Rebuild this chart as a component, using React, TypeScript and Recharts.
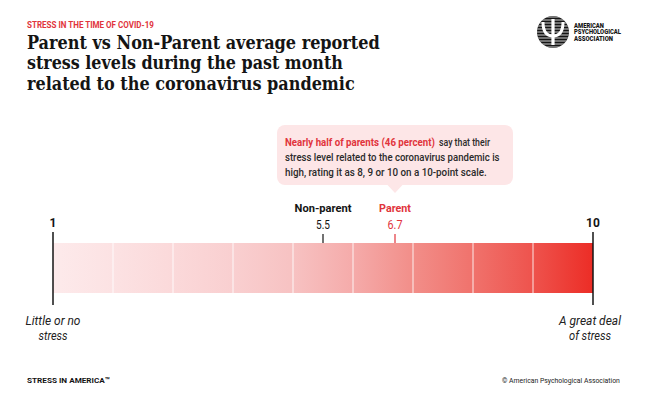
import React, {useLayoutEffect, useRef, useState} from "react";
import {ComposedChart, ReferenceArea, ReferenceLine, Scatter, XAxis, YAxis} from "recharts";

//  DATA

const scaleSteps = [1, 2, 3, 4, 5, 6, 7, 8, 9, 10]
const stepColors = ['#fdeaeb', '#fce2e3', '#fbd9da', '#f9cfd0', '#f7c2c2', '#f5abaa', '#f28e89', '#f0726c', '#ee534d', '#ec2d26']
const groupNames = ['Non-parent', 'Parent']
const groupScores = [5.5, 6.7]
const endpointValues = [1, 10]
const endpointCaptions = [['Little or no', 'stress'], ['A great deal', 'of stress']]
const calloutHighlight = 'Nearly half of parents (46 percent)'
const calloutLines = ['say that their', 'stress level related to the coronavirus pandemic is', 'high, rating it as 8, 9 or 10 on a 10-point scale.']
const kicker = 'STRESS IN THE TIME OF COVID-19'
const titleLines = ['Parent vs Non-Parent average reported', 'stress levels during the past month', 'related to the coronavirus pandemic']
const footerLeft = 'STRESS IN AMERICA™'
const footerRight = '© American Psychological Association'
const logoLines = ['AMERICAN', 'PSYCHOLOGICAL', 'ASSOCIATION']

//  STYLE

const RED = '#e1343c'
const INK = '#141414'
const SANS = "Roboto, 'Noto Sans', sans-serif"
const SERIF = "'DejaVu Serif Condensed', 'DejaVu Serif', serif"
const TITLE_WIDTHS = [353, 316, 328]
const NAME_WIDTHS = [57, 32]
const SCORE_WIDTHS = [14, 15]
const CAPTION_WIDTHS = [[55, 29], [62, 42]]
const CAPTION_SHIFT = [0, -3]
const CALLOUT_WIDTHS = [150, 51, 215, 202]
const LOGO_WIDTHS = [30, 47, 39]

const markerData = groupNames.map((name, i) => ({x: groupScores[i], y: 1, name, index: i}))
const endpointData = endpointValues.map((v, i) => ({x: v, y: 1, label: String(v), index: i}))
const segments = scaleSteps.slice(0, -1)


//  HELPERS

/**
 * Text squeezed horizontally to a given width (the reference uses a condensed face)
 */
function FitText({x, y, width, anchor = 'start', children, ...rest}: any) {
  const ref = useRef<SVGTextElement>(null)
  const [scale, setScale] = useState(1)

  useLayoutEffect(() => {
    const natural = ref.current?.getComputedTextLength() ?? 0
    if (natural > 0) setScale(width / natural)
  }, [width, children])

  return (
    <g transform={`translate(${x},${y}) scale(${scale},1)`}>
      <text ref={ref} x={0} y={0} textAnchor={anchor} {...rest}>{children}</text>
    </g>
  )
}


//  SHAPES

function Callout({cx, cy}: { cx: number, cy: number }) {
  const left = cx - 118
  return (
    <g>
      <rect x={left} y={cy - 118} width={236} height={60} rx={8} fill={'#fde6e7'}/>
      <path d={`M${cx - 8},${cy - 58.5} L${cx},${cy - 50} L${cx + 8},${cy - 58.5} Z`} fill={'#fde6e7'}/>
      <FitText x={left + 8} y={cy - 97} width={CALLOUT_WIDTHS[0]} fontFamily={SANS} fontSize={11} fontWeight={700}
               fill={RED}>{calloutHighlight}</FitText>
      <FitText x={left + 8 + CALLOUT_WIDTHS[0] + 4} y={cy - 97} width={CALLOUT_WIDTHS[1]} fontFamily={SANS}
               fontSize={11} fontWeight={500} fill={'#2a2a2a'}>{calloutLines[0]}</FitText>
      {calloutLines.slice(1).map((line, i) => (
        <FitText key={line} x={left + 8} y={cy - 82 + i * 14.5} width={CALLOUT_WIDTHS[i + 2]} fontFamily={SANS}
                 fontSize={11} fontWeight={500} fill={'#2a2a2a'}>{line}</FitText>
      ))}
    </g>
  )
}

function GroupMarker(props: any) {
  const {cx, cy, payload} = props
  const i = payload.index
  const color = i === 1 ? RED : INK
  return (
    <g>
      {i === 1 && <Callout cx={cx} cy={cy}/>}
      <FitText x={cx} y={cy - 31} anchor="middle" width={NAME_WIDTHS[i]} fontFamily={SANS} fontSize={11.5}
               fontWeight={700} fill={color}>{payload.name}</FitText>
      <FitText x={cx} y={cy - 14} anchor="middle" width={SCORE_WIDTHS[i]} fontFamily={SANS} fontSize={12.5}
               fill={color}>{String(payload.x)}</FitText>
      <line x1={cx} x2={cx} y1={cy - 9} y2={cy} stroke={color} strokeWidth={1.2}/>
    </g>
  )
}

function EndpointMarker(props: any) {
  const {cx, cy, payload} = props
  const i = payload.index
  const lines = endpointCaptions[i]
  return (
    <g>
      <line x1={cx} x2={cx} y1={cy - 11} y2={cy + 62} stroke={INK} strokeWidth={1.5}/>
      <text x={cx} y={cy - 16} textAnchor="middle" fontFamily={SANS} fontSize={12} fontWeight={700} fill={INK}>
        {payload.label}
      </text>
      {lines.map((line, k) => (
        <FitText key={line} x={cx + CAPTION_SHIFT[i]} y={cy + 81.5 + k * 15.5} anchor="middle"
                 width={CAPTION_WIDTHS[i][k]} fontFamily={SANS} fontSize={13} fontStyle="italic"
                 fill={'#222'}>{line}</FitText>
      ))}
    </g>
  )
}

function Logo() {
  const cx = 553
  const cy = 32
  const r = 16
  const stripes = Array.from({length: 11}, (_, k) => cy - 15 + k * 3)
  return (
    <g>
      <defs>
        <clipPath id="logoClip">
          <circle cx={cx} cy={cy} r={r}/>
        </clipPath>
      </defs>
      <circle cx={cx} cy={cy} r={r} fill={INK}/>
      <g clipPath="url(#logoClip)">
        {stripes.map(y => (
          <line key={y} x1={cx - r} x2={cx + r} y1={y} y2={y} stroke="#fff" strokeWidth={0.8}/>
        ))}
      </g>
      <rect x={cx - 1.6} y={cy - 13} width={3.2} height={26} fill="#fff"/>
      <path d={`M${cx - 10},${cy - 10} Q${cx - 10},${cy + 4} ${cx},${cy + 4} Q${cx + 10},${cy + 4} ${cx + 10},${cy - 10}`}
            fill="none" stroke="#fff" strokeWidth={3}/>
      {logoLines.map((line, k) => (
        <FitText key={line} x={574} y={27.5 + k * 6.6} width={LOGO_WIDTHS[k]} fontFamily={SANS} fontSize={6.3}
                 fontWeight={900} fill={INK}>{line}</FitText>
      ))}
    </g>
  )
}


//  RENDER

export default function App() {
  return (
    <div style={{position: 'absolute', left: 0, top: 0, width: 647, height: 397, background: '#fff'}}>
      <ComposedChart width={647} height={397} margin={{top: 243, right: 54, bottom: 104, left: 53}}>
        <defs>
          {segments.map(s => (
            <linearGradient key={s} id={`seg${s}`} x1="0" y1="0" x2="1" y2="0">
              <stop offset="0%" stopColor={stepColors[s - 1]}/>
              <stop offset="100%" stopColor={stepColors[s]}/>
            </linearGradient>
          ))}
        </defs>
        <XAxis type="number" dataKey="x" domain={[1, 10]} hide/>
        <YAxis type="number" dataKey="y" domain={[0, 1]} hide/>
        {segments.map(s => (
          <ReferenceArea key={s} x1={s} x2={s + 1} y1={0} y2={1} fill={`url(#seg${s})`} fillOpacity={1}
                         stroke="none"/>
        ))}
        {scaleSteps.slice(1, -1).map(s => (
          <ReferenceLine key={s} x={s} stroke="#fff" strokeOpacity={0.85} strokeWidth={1}/>
        ))}
        <Scatter data={markerData} dataKey="y" shape={GroupMarker} isAnimationActive={false}/>
        <Scatter data={endpointData} dataKey="y" shape={EndpointMarker} isAnimationActive={false}/>
      </ComposedChart>
      <svg width={647} height={397} style={{position: 'absolute', left: 0, top: 0, pointerEvents: 'none'}}>
        <FitText x={27} y={27.5} width={127} fontFamily={SANS} fontSize={8.5} fontWeight={700}
                 fill={RED}>{kicker}</FitText>
        {titleLines.map((line, k) => (
          <FitText key={line} x={27} y={48.5 + k * 20.8} width={TITLE_WIDTHS[k]} fontFamily={SERIF} fontSize={19}
                   fontWeight={700} fill={INK}>{line}</FitText>
        ))}
        <Logo/>
        <FitText x={27} y={383} width={83} fontFamily={SANS} fontSize={8} fontWeight={700}
                 fill={INK}>{footerLeft}</FitText>
        <FitText x={502} y={383} width={118} fontFamily={SANS} fontSize={8} fill={'#222'}>{footerRight}</FitText>
      </svg>
    </div>
  )
}
